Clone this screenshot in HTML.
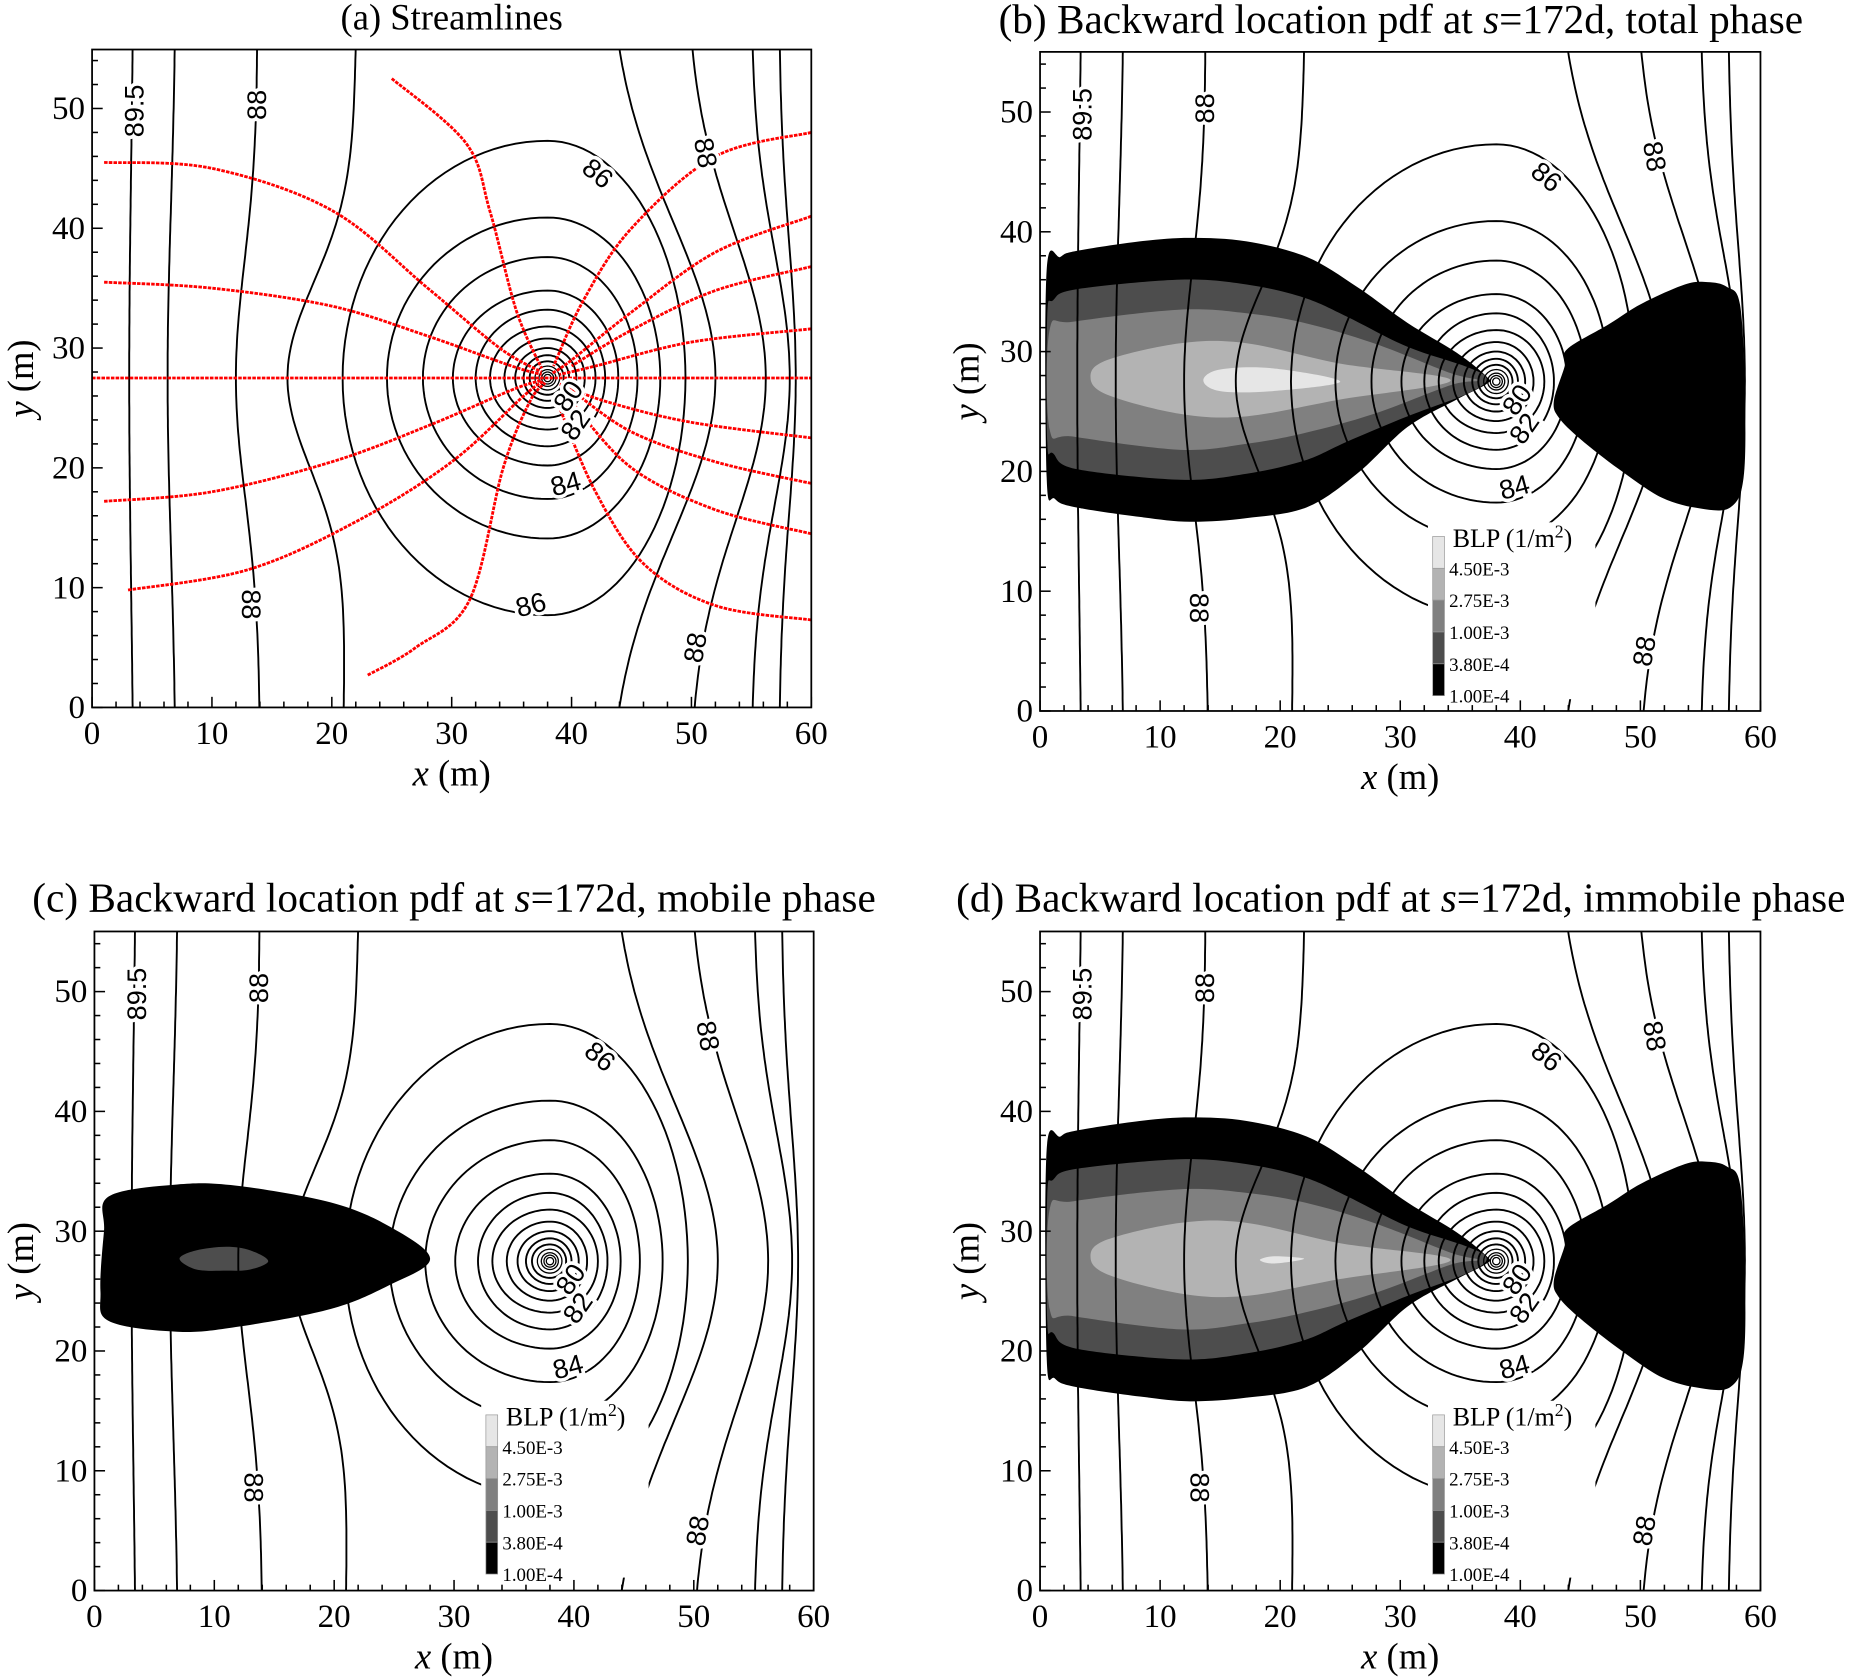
<!DOCTYPE html>
<html><head><meta charset="utf-8"><style>
html,body{margin:0;padding:0;background:#fff}
svg{display:block}
.t{font-family:"Liberation Serif",serif;fill:#000}
.s{font-family:"Liberation Sans",sans-serif;fill:#000}
</style></head><body>
<svg id="fig" xmlns="http://www.w3.org/2000/svg" width="1849" height="1679" viewBox="0 0 1568 1424"></svg>
<script>
// ---- data ----
const xTicks=[0,10,20,30,40,50,60];
const yTicks=[0,10,20,30,40,50];
const wellX=38, wellY=27.5;
const ringR =[19.8,13.4,10.1,7.3,5.7,4.3,3.3,2.5,1.9,1.4,1.0,0.7,0.5,0.3];
const ringL =[17.1,13.4,10.4,7.9,6.0,4.8,3.6,2.7,2.0,1.5,1.05,0.72,0.5,0.3];
const ringRt=[11.5,9.4,7.5,5.9,4.8,4.0,3.1,2.4,1.8,1.35,1.0,0.7,0.5,0.3];
const lineTop=[3.5,7,13.8,22,43,49.6,55,57.3];
const lineMid=[3.1,6.3,12,16.3,52,56.2,58.2,58.7];
const lineBot=[3.5,7,14,21,43,49.8,55,57.3];
const lineW=[25,20,14,11,18.5,17,15,16];
const labelText=["89.5","88","86","88","80","82","84","88","88"];
const labelX=[3.5,13.7,42.2,51.2,39.7,40.3,39.5,13.3,50.3];
const labelY=[49.8,50.3,44.6,46.3,26.0,23.6,18.7,8.6,5.0];
const labelRot=[-90,-90,40,80,-55,-55,-15,90,-80];
const plumeBlack=[[0.55,36.8],[1.7,37.9],[3,38.4],[8.3,39.2],[12.5,39.5],[17.2,39.2],[22.2,37.9],[26.4,35.4],[30.6,32.4],[34.7,29.9],[37.2,27.9],[37.2,27.3],[34.7,26],[30.6,23.7],[26.4,19.8],[22.2,17],[17.2,16.1],[12.5,15.8],[8.3,16.2],[3,17],[1.25,17.7],[0.55,19.5]];
const plumeDark=[[0.6,33],[1.1,34.3],[3,35.2],[11.7,36],[17.2,35.6],[22,34.5],[25.6,32.9],[30.6,30.4],[35.6,28.7],[37.2,27.7],[35.6,26.5],[30.6,24.6],[25.6,22.5],[22,20.9],[17.2,19.8],[11.7,19.3],[3,20.2],[1.1,21.5],[0.6,22.5]];
const plumeMid=[[0.8,31.8],[2.8,32.5],[11.7,33.5],[17.2,33.2],[22,32.4],[27.8,30.7],[34.2,28.2],[36.5,27.6],[34.2,27.2],[27.8,24.8],[22,23.2],[17.2,22.3],[11.7,21.8],[2.8,22.9],[0.8,23.5]];
const plumeLight=[[4.2,27.9],[5.6,29.3],[11.7,30.7],[17.2,30.7],[25,29],[34.2,27.6],[25,26],[17.2,24.6],[11.7,24.8],[5.6,26.4]];
const plumeLightestB=[[13.6,27.6],[15,28.5],[19.4,28.6],[25,27.5],[19.4,26.7],[15,26.7]];
const plumeLightestD=[[18.3,27.6],[19.5,27.9],[22,27.7],[19.5,27.3]];
const rightBlob=[[43.7,28.8],[43.9,30.2],[47.4,32.3],[50.1,34],[53.7,35.6],[55.6,35.8],[57.2,35.4],[58.3,33.9],[58.7,26.6],[58.6,19.5],[57.5,17],[55,16.9],[51.8,17.8],[48.2,20.2],[45,22.7],[43.2,24.5],[42.8,25.9]];
const mobileBlack=[[0.8,30],[1.2,32.9],[6.9,33.9],[11.8,33.8],[19.7,32.4],[24.6,30.4],[28,27.7],[24.6,25.5],[19.7,23.5],[11.8,22],[6.9,21.6],[1.2,22.5],[0.5,25]];
const mobileGray=[[7.1,27.7],[8.5,28.4],[11,28.7],[13,28.4],[14.5,27.5],[13,26.8],[11,26.7],[8.5,26.8]];
const streamlines=[
 [[0,27.5],[60,27.5]],
 [[1,35.5],[10,35],[20,33.5],[28,31],[35,28.5],[37.5,27.8]],
 [[1,45.5],[10,45],[20,41.5],[28,35],[34,30],[37.5,28]],
 [[25,52.5],[31.2,47.1],[33.2,41.4],[35.4,33.1],[37.5,28.3]],
 [[1,17.2],[10,18],[20,20.5],[28,23.5],[35,26.5],[37.5,27.3]],
 [[3,9.8],[13,11.5],[22,15.5],[30,20.5],[36,26],[37.6,27.2]],
 [[23,2.7],[27,5],[31.5,9],[34.3,20],[36.5,25.5],[37.8,27.1]],
 [[60,48],[52,46],[45,40],[41,34],[38.5,28.5]],
 [[60,41],[52,38],[45,33],[40,29],[38.4,27.9]],
 [[60,36.8],[52,34.8],[45,31.5],[40,28.5]],
 [[60,31.6],[50,30.5],[42,28.5],[39,27.8]],
 [[60,22.5],[50,23.8],[43,25.5],[39,27]],
 [[60,18.7],[52,20.5],[45,23],[40,26.5]],
 [[60,14.5],[52,16.5],[45,20],[40,25.5]],
 [[60,7.3],[52,8.5],[46,12],[42,18],[39,25]]
];
const legendColors=["#e6e6e6","#b3b3b3","#808080","#4d4d4d","#000000"];
const legendLabels=["4.50E-3","2.75E-3","1.00E-3","3.80E-4","1.00E-4"];

// ---- drawing ----
const NS="http://www.w3.org/2000/svg";
const svg=document.getElementById('fig');
function el(tag,attrs,parent){const e=document.createElementNS(NS,tag);for(const k in attrs)e.setAttribute(k,attrs[k]);(parent||svg).appendChild(e);return e;}

const panels=[
 {id:'a',x0:78,x1:688,yb:600,y50:92,top:42,title:'(a) Streamlines',tx:383,ty:25,lx:28,lg:null},
 {id:'b',x0:882,x1:1493,yb:603,y50:95,top:44,title:'total phase',tx:1188,ty:28,lx:830,lg:[1215,455]},
 {id:'c',x0:80,x1:690,yb:1349,y50:841,top:790,title:'mobile phase',tx:385,ty:773,lx:28,lg:[412,1200]},
 {id:'d',x0:882,x1:1493,yb:1349,y50:841,top:790,title:'immobile phase',tx:1188,ty:773,lx:830,lg:[1215,1200]}
];

function smooth(pts,X,Y){
 const n=pts.length;
 const P=pts.map(p=>[X(p[0]),Y(p[1])]);
 let d='M'+P[0][0].toFixed(1)+','+P[0][1].toFixed(1);
 for(let i=0;i<n;i++){
  const p0=P[(i-1+n)%n],p1=P[i],p2=P[(i+1)%n],p3=P[(i+2)%n];
  const c1=[p1[0]+(p2[0]-p0[0])/6,p1[1]+(p2[1]-p0[1])/6];
  const c2=[p2[0]-(p3[0]-p1[0])/6,p2[1]-(p3[1]-p1[1])/6];
  d+='C'+c1[0].toFixed(1)+','+c1[1].toFixed(1)+' '+c2[0].toFixed(1)+','+c2[1].toFixed(1)+' '+p2[0].toFixed(1)+','+p2[1].toFixed(1);
 }
 return d+'Z';
}
function openSmooth(pts,X,Y){
 const P=pts.map(p=>[X(p[0]),Y(p[1])]);const n=P.length;
 let d='M'+P[0][0].toFixed(1)+','+P[0][1].toFixed(1);
 for(let i=0;i<n-1;i++){
  const p0=P[Math.max(i-1,0)],p1=P[i],p2=P[i+1],p3=P[Math.min(i+2,n-1)];
  const c1=[p1[0]+(p2[0]-p0[0])/6,p1[1]+(p2[1]-p0[1])/6];
  const c2=[p2[0]-(p3[0]-p1[0])/6,p2[1]-(p3[1]-p1[1])/6];
  d+='C'+c1[0].toFixed(1)+','+c1[1].toFixed(1)+' '+c2[0].toFixed(1)+','+c2[1].toFixed(1)+' '+p2[0].toFixed(1)+','+p2[1].toFixed(1);
 }
 return d;
}

panels.forEach(p=>{
 const sx=(p.x1-p.x0)/60, sy=(p.yb-p.y50)/50;
 const X=v=>p.x0+v*sx, Y=v=>p.yb-v*sy;
 const g=el('g',{});
 
 
 const clipId='clip'+p.id;
 const cp=el('clipPath',{id:clipId},g);el('rect',{x:p.x0,y:p.top,width:p.x1-p.x0,height:p.yb-p.top},cp);
 const plot=el('g',{'clip-path':'url(#'+clipId+')'},g);
 
 
 function blob(pts,fill,name){const e=el('path',{d:smooth(pts,X,Y),fill:fill},plot);
  
  }
 if(p.id==='b'||p.id==='d'){
  blob(plumeBlack,'#000','plume-level-1');
  blob(plumeDark,'#4d4d4d','plume-level-2');
  blob(plumeMid,'#808080','plume-level-3');
  blob(plumeLight,'#b3b3b3','plume-level-4');
  blob(p.id==='b'?plumeLightestB:plumeLightestD,'#e6e6e6','plume-level-5');
  blob(rightBlob,'#000','right-blob');
 }
 if(p.id==='c'){
  blob(mobileBlack,'#000','mobile-plume');
  blob(mobileGray,'#4d4d4d','mobile-plume-core');
 }
 lineTop.forEach((t,i)=>{
  let d='';
  for(let k=0;k<=110;k++){
   const y=-0.5+k*0.51;
   const base=lineBot[i]+(t-lineBot[i])*(y/55);
   const x=base+(lineMid[i]-base)*Math.exp(-Math.pow((y-wellY)/lineW[i],2));
   d+=(k?'L':'M')+X(x).toFixed(1)+','+Y(y).toFixed(1);
  }
  const e=el('path',{d:d,fill:'none',stroke:'#000','stroke-width':1.6},plot);
  
  
 });
 ringR.forEach((R,i)=>{
  let d='';
  for(let k=0;k<=120;k++){
   const t=k/120*2*Math.PI;const c=Math.cos(t);
   const x=wellX+(c>0?ringRt[i]:ringL[i])*c;
   const y=wellY+R*Math.sin(t);
   d+=(k?'L':'M')+X(x).toFixed(1)+','+Y(y).toFixed(1);
  }
  const e=el('path',{d:d+'Z',fill:'none',stroke:'#000','stroke-width':i>9?1.1:1.6},plot);
  
  
 });
 const wd=el('circle',{cx:X(wellX),cy:Y(wellY),r:2.5,fill:'#fff'},plot);
 
 
 if(p.id==='a'){
  streamlines.forEach(sl=>{
   const e=el('path',{d:openSmooth(sl,X,Y),fill:'none',stroke:'#ff0000','stroke-width':2.4,'stroke-dasharray':'3 1'},plot);
   
   
  });
 }
 labelText.forEach((tx,i)=>{
  const e=el('text',{x:X(labelX[i]),y:Y(labelY[i]),'text-anchor':'middle','dominant-baseline':'central',class:'s','font-size':23,transform:'rotate('+labelRot[i]+' '+X(labelX[i])+' '+Y(labelY[i])+')',stroke:'#fff','stroke-width':6,'paint-order':'stroke'},plot);
  e.textContent=tx;
  
  
 });
 if(p.id==='a'){
  const e=el('text',{x:X(36.6),y:Y(8.6),'text-anchor':'middle','dominant-baseline':'central',class:'s','font-size':23,transform:'rotate(-15 '+X(36.6)+' '+Y(8.6)+')',stroke:'#fff','stroke-width':6,'paint-order':'stroke'},plot);
  e.textContent='86';
  
  
 }
 if(p.lg){
  const lg=el('g',{},g);
  
  
  const [lx,ly]=p.lg;
  el('rect',{x:lx-4,y:ly-12,width:142,height:150,fill:'#fff'},lg);
  legendColors.forEach((c,i)=>{
   const r=el('rect',{x:lx,y:ly+i*27,width:10,height:27,fill:c,stroke:'#999','stroke-width':0.6},lg);
   
   
   const t=el('text',{x:lx+14,y:ly+i*27+33,class:'t','font-size':16},lg);
   t.textContent=legendLabels[i];
   
   
  });
  const tt=el('text',{x:lx+17,y:ly+9,class:'t','font-size':22},lg);
  tt.innerHTML='BLP (1/m<tspan dy="-8" font-size="15">2</tspan><tspan dy="8">)</tspan>';
  
  
 }
 const fr=el('rect',{x:p.x0,y:p.top,width:p.x1-p.x0,height:p.yb-p.top,fill:'none',stroke:'#000','stroke-width':1.5},g);
 
 
 for(let v=0;v<=60;v+=2){
  const L=v%10===0?9:5;
  el('line',{x1:X(v),x2:X(v),y1:p.yb,y2:p.yb-L,stroke:'#000','stroke-width':1.3},g);
 }
 for(let v=0;v<=54;v+=2){
  const L=v%10===0?9:5;
  el('line',{x1:p.x0,x2:p.x0+L,y1:Y(v),y2:Y(v),stroke:'#000','stroke-width':1.3},g);
 }
 xTicks.forEach(v=>{
  const t=el('text',{x:X(v),y:p.yb+31,'text-anchor':'middle',class:'t','font-size':28},g);
  t.textContent=v;
  
  
 });
 yTicks.forEach(v=>{
  const t=el('text',{x:p.x0-6,y:Y(v)+9,'text-anchor':'end',class:'t','font-size':28},g);
  t.textContent=v;
  
  
 });
 const xl=el('text',{x:(p.x0+p.x1)/2,y:p.yb+66,'text-anchor':'middle',class:'t','font-size':31},g);
 xl.innerHTML='<tspan font-style="italic">x</tspan> (m)';
 
 
 const ycy=(p.top+p.yb)/2;
 const yl=el('text',{x:p.lx,y:ycy,'text-anchor':'middle',class:'t','font-size':31,transform:'rotate(-90 '+p.lx+' '+ycy+')'},g);
 yl.innerHTML='<tspan font-style="italic">y</tspan> (m)';
 
 
 const ti=el('text',{x:p.tx,y:p.ty,'text-anchor':'middle',class:'t','font-size':p.id==='a'?31:35},g);
 if(p.id==='a') ti.textContent=p.title;
 else ti.innerHTML='('+p.id+') Backward location pdf at <tspan font-style="italic">s</tspan>=172d, '+p.title;
 
 
});
</script>
</body></html>
